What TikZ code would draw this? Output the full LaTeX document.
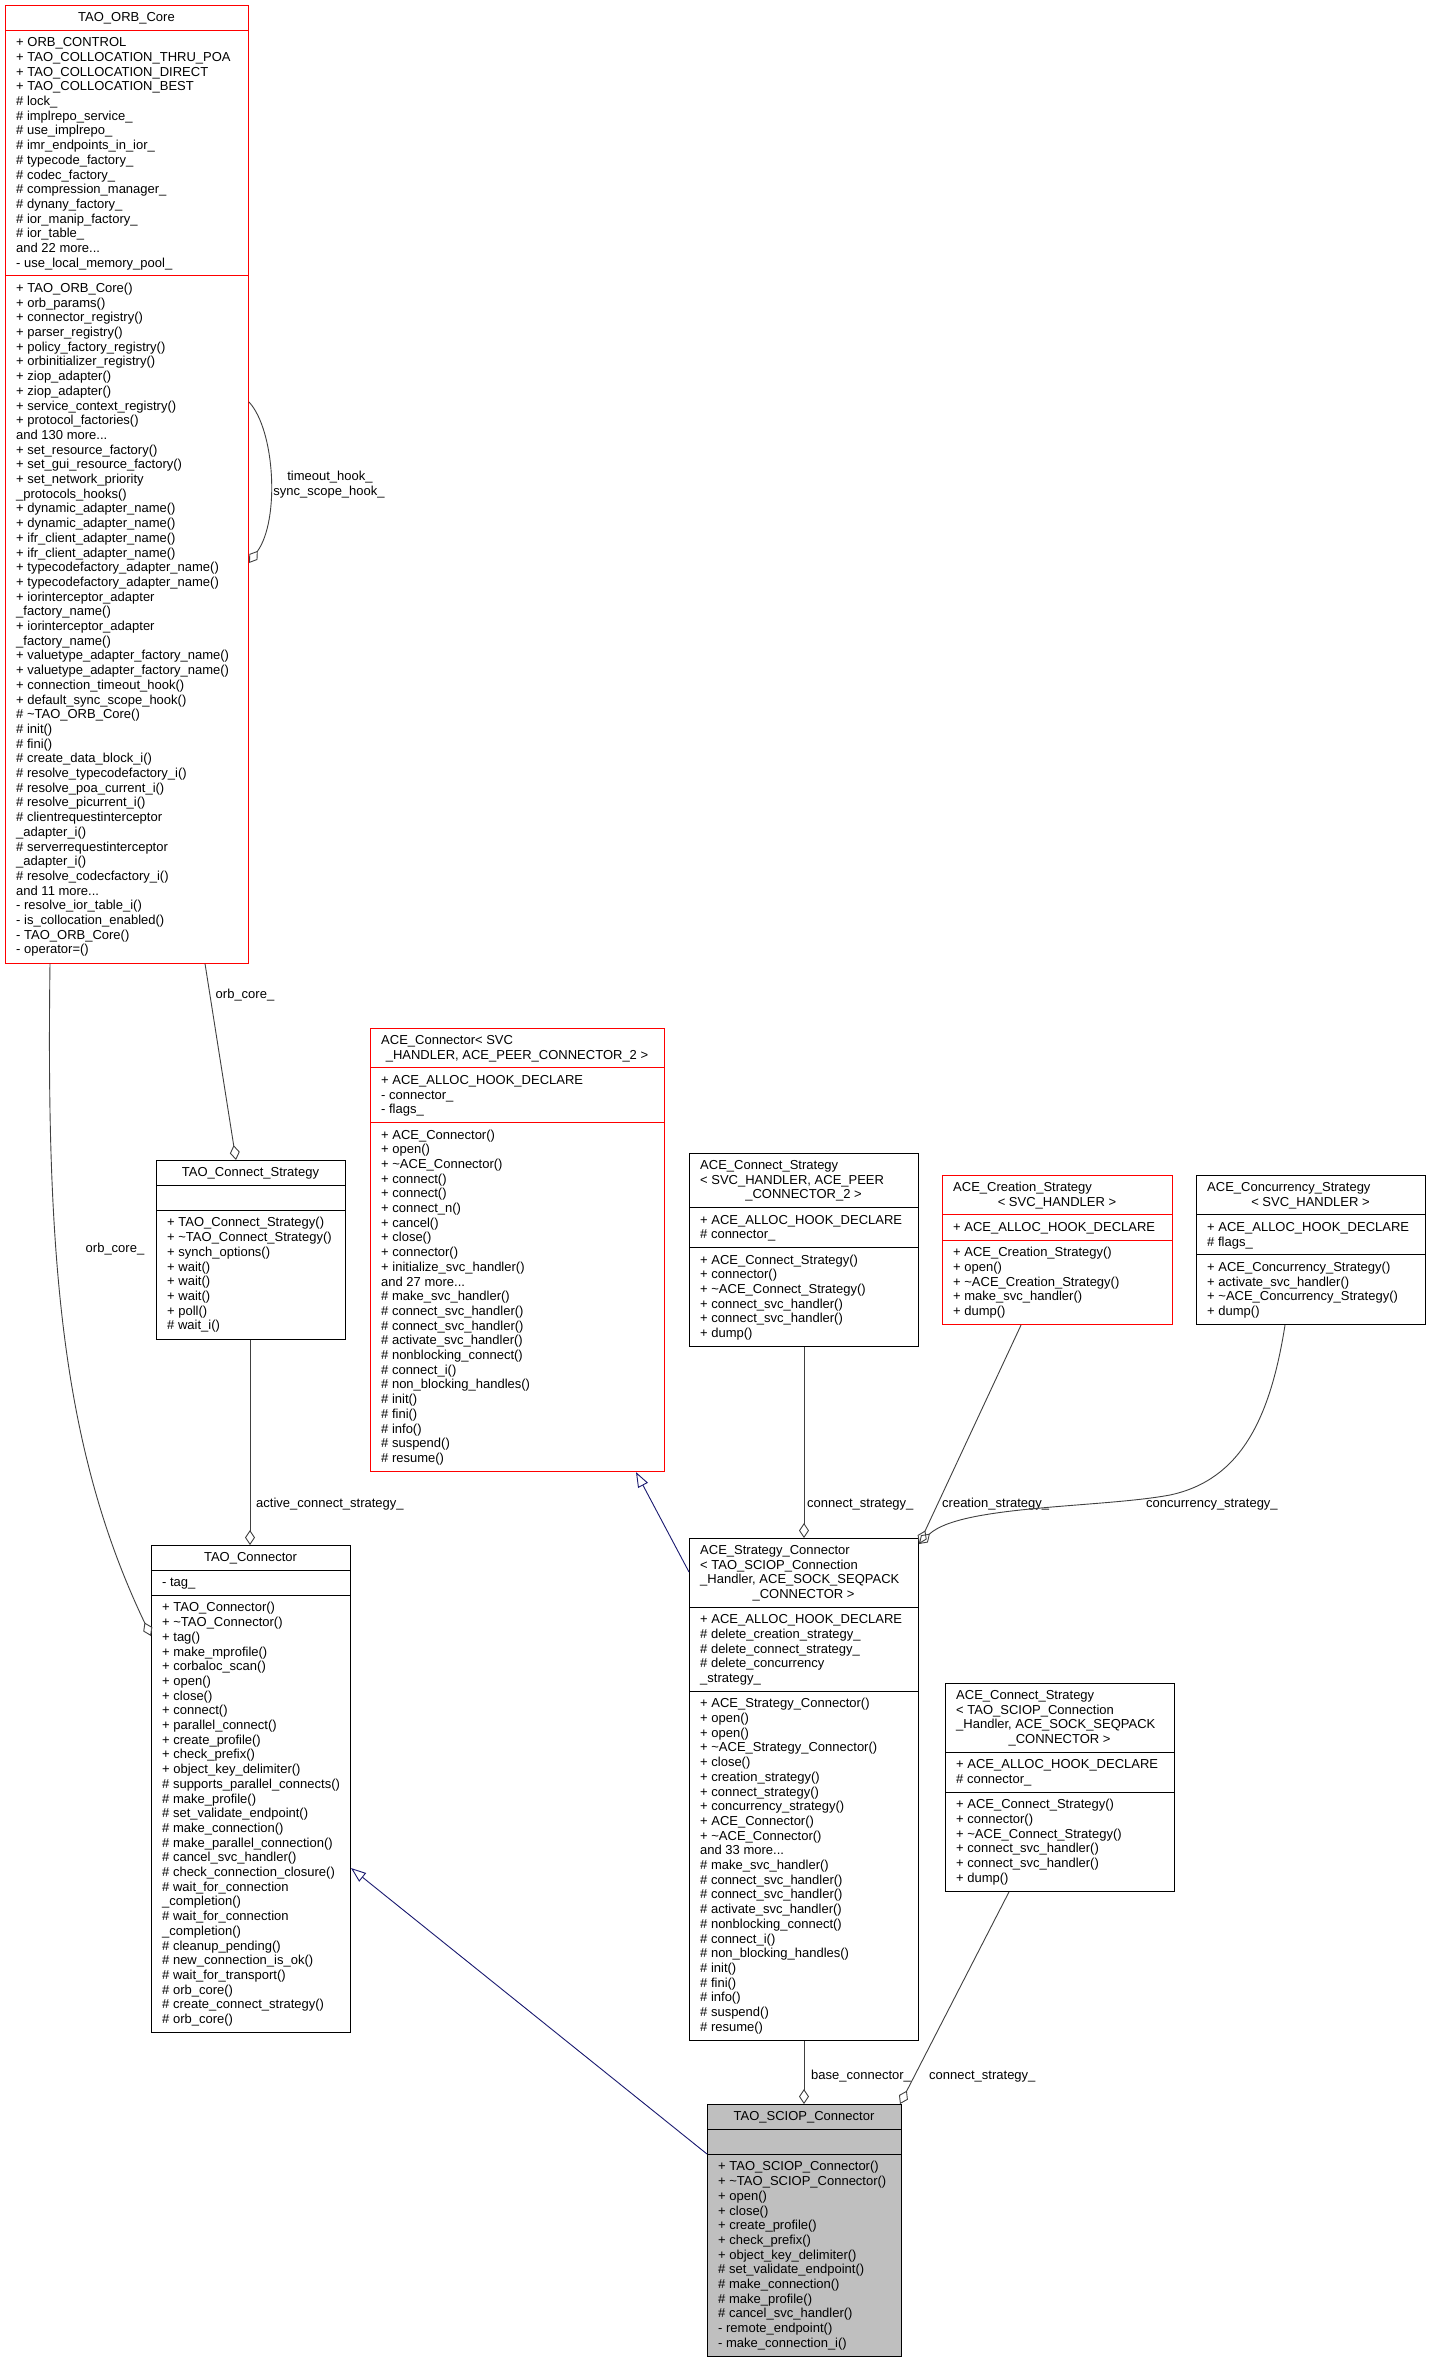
\documentclass[tikz,border=0pt]{standalone}
\usepackage{fontspec}
\setmainfont{Liberation Sans}
\usetikzlibrary{arrows.meta}
\definecolor{edgegray}{HTML}{404040}
\definecolor{navyblue}{HTML}{191970}
\definecolor{selgray}{HTML}{BFBFBF}
\newcommand{\mdots}{...}
\tikzset{
  txt/.style={font=\fontsize{13}{14.7}\selectfont, inner sep=0pt, text=black},
  boxshape/.style={line width=1pt, inner sep=0pt},
  usage/.style={draw=edgegray, line width=0.9pt, -{Diamond[open,length=15pt,width=10pt]}},
  inherit/.style={draw=navyblue, line width=0.9pt, -{Triangle[open,length=15pt,width=11pt]}},
}
% #1 name #2 x1 #3 x2 #4 top #5 nh #6 na #7 nm #8 border colour #9 fill
\newcommand{\umlclass}[9]{%
  \pgfmathsetmacro\hA{#5*14.7+10.5}%
  \pgfmathsetmacro\hB{#6*14.7+10.5}%
  \pgfmathsetmacro\hC{#7*14.7+10.5}%
  \pgfmathsetmacro\bw{#3-#2}%
  \pgfmathsetmacro\bh{\hA+\hB+\hC}%
  \pgfmathsetmacro\sA{#4+\hA}%
  \pgfmathsetmacro\sB{#4+\hA+\hB}%
  \node[boxshape, draw=#8, fill=#9, anchor=north west, minimum width=\bw pt, minimum height=\bh pt] (#1) at (#2,#4) {};
  \draw[line width=1pt, #8] (#2,\sA) -- (#3,\sA) (#2,\sB) -- (#3,\sB);
  \xdef\secA{#4}\xdef\secB{\sA}\xdef\secC{\sB}%
}
\newcommand{\lns}[3]{%
  \foreach \tline [count=\i from 0] in {#3} {\node[txt, anchor=base west] at (#1+11, #2+16.5+\i*14.7) {\tline};}}
\newcommand{\cln}[3]{\node[txt, anchor=base] at (#1, #2) {#3};}
\begin{document}
\begin{tikzpicture}[x=1pt, y=-1pt]
\useasboundingbox (0,0) rectangle (1431,2363);
\fill[white] (0,0) rectangle (1431,2363);

% TAO_ORB_Core
\umlclass{orb}{5}{248}{5}{1}{16}{46}{red}{white}
\cln{126.5}{\secA+16.5}{TAO\_ORB\_Core}
\lns{5}{\secB}{+ ORB\_CONTROL, + TAO\_COLLOCATION\_THRU\_POA, + TAO\_COLLOCATION\_DIRECT, + TAO\_COLLOCATION\_BEST, \# lock\_, \# implrepo\_service\_, \# use\_implrepo\_, \# imr\_endpoints\_in\_ior\_, \# typecode\_factory\_, \# codec\_factory\_, \# compression\_manager\_, \# dynany\_factory\_, \# ior\_manip\_factory\_, \# ior\_table\_, and 22 more\mdots, - use\_local\_memory\_pool\_}
\lns{5}{\secC}{+ TAO\_ORB\_Core(), + orb\_params(), + connector\_registry(), + parser\_registry(), + policy\_factory\_registry(), + orbinitializer\_registry(), + ziop\_adapter(), + ziop\_adapter(), + service\_context\_registry(), + protocol\_factories(), and 130 more\mdots, + set\_resource\_factory(), + set\_gui\_resource\_factory(), + set\_network\_priority, \_protocols\_hooks(), + dynamic\_adapter\_name(), + dynamic\_adapter\_name(), + ifr\_client\_adapter\_name(), + ifr\_client\_adapter\_name(), + typecodefactory\_adapter\_name(), + typecodefactory\_adapter\_name(), + iorinterceptor\_adapter, \_factory\_name(), + iorinterceptor\_adapter, \_factory\_name(), + valuetype\_adapter\_factory\_name(), + valuetype\_adapter\_factory\_name(), + connection\_timeout\_hook(), + default\_sync\_scope\_hook(), \# \textasciitilde TAO\_ORB\_Core(), \# init(), \# fini(), \# create\_data\_block\_i(), \# resolve\_typecodefactory\_i(), \# resolve\_poa\_current\_i(), \# resolve\_picurrent\_i(), \# clientrequestinterceptor, \_adapter\_i(), \# serverrequestinterceptor, \_adapter\_i(), \# resolve\_codecfactory\_i(), and 11 more\mdots, - resolve\_ior\_table\_i(), - is\_collocation\_enabled(), - TAO\_ORB\_Core(), - operator=()}

% ACE_Connector
\umlclass{acon}{370}{664}{1028}{2}{3}{23}{red}{white}
\lns{370}{\secA}{ACE\_Connector< SVC}
\cln{517}{\secA+16.5+14.7}{\_HANDLER, ACE\_PEER\_CONNECTOR\_2 >}
\lns{370}{\secB}{+ ACE\_ALLOC\_HOOK\_DECLARE, - connector\_, - flags\_}
\lns{370}{\secC}{+ ACE\_Connector(), + open(), + \textasciitilde ACE\_Connector(), + connect(), + connect(), + connect\_n(), + cancel(), + close(), + connector(), + initialize\_svc\_handler(), and 27 more\mdots, \# make\_svc\_handler(), \# connect\_svc\_handler(), \# connect\_svc\_handler(), \# activate\_svc\_handler(), \# nonblocking\_connect(), \# connect\_i(), \# non\_blocking\_handles(), \# init(), \# fini(), \# info(), \# suspend(), \# resume()}

% TAO_Connect_Strategy
\umlclass{tcs}{156}{345}{1160}{1}{1}{8}{black}{white}
\cln{250.5}{\secA+16.5}{TAO\_Connect\_Strategy}
\lns{156}{\secC}{+ TAO\_Connect\_Strategy(), + \textasciitilde TAO\_Connect\_Strategy(), + synch\_options(), + wait(), + wait(), + wait(), + poll(), \# wait\_i()}

% ACE_Connect_Strategy <SVC_HANDLER,...>
\umlclass{acsA}{689}{918}{1153}{3}{2}{6}{black}{white}
\lns{689}{\secA}{ACE\_Connect\_Strategy, {< SVC\_HANDLER, ACE\_PEER}}
\cln{803.5}{\secA+16.5+29.4}{\_CONNECTOR\_2 >}
\lns{689}{\secB}{+ ACE\_ALLOC\_HOOK\_DECLARE, \# connector\_}
\lns{689}{\secC}{+ ACE\_Connect\_Strategy(), + connector(), + \textasciitilde ACE\_Connect\_Strategy(), + connect\_svc\_handler(), + connect\_svc\_handler(), + dump()}

% ACE_Creation_Strategy
\umlclass{acr}{942}{1172}{1175}{2}{1}{5}{red}{white}
\lns{942}{\secA}{ACE\_Creation\_Strategy}
\cln{1057}{\secA+16.5+14.7}{< SVC\_HANDLER >}
\lns{942}{\secB}{+ ACE\_ALLOC\_HOOK\_DECLARE}
\lns{942}{\secC}{+ ACE\_Creation\_Strategy(), + open(), + \textasciitilde ACE\_Creation\_Strategy(), + make\_svc\_handler(), + dump()}

% ACE_Concurrency_Strategy
\umlclass{acc}{1196}{1425}{1175}{2}{2}{4}{black}{white}
\lns{1196}{\secA}{ACE\_Concurrency\_Strategy}
\cln{1310.5}{\secA+16.5+14.7}{< SVC\_HANDLER >}
\lns{1196}{\secB}{+ ACE\_ALLOC\_HOOK\_DECLARE, \# flags\_}
\lns{1196}{\secC}{+ ACE\_Concurrency\_Strategy(), + activate\_svc\_handler(), + \textasciitilde ACE\_Concurrency\_Strategy(), + dump()}

% TAO_Connector
\umlclass{tcon}{151}{350}{1545}{1}{1}{29}{black}{white}
\cln{250.5}{\secA+16.5}{TAO\_Connector}
\lns{151}{\secB}{- tag\_}
\lns{151}{\secC}{+ TAO\_Connector(), + \textasciitilde TAO\_Connector(), + tag(), + make\_mprofile(), + corbaloc\_scan(), + open(), + close(), + connect(), + parallel\_connect(), + create\_profile(), + check\_prefix(), + object\_key\_delimiter(), \# supports\_parallel\_connects(), \# make\_profile(), \# set\_validate\_endpoint(), \# make\_connection(), \# make\_parallel\_connection(), \# cancel\_svc\_handler(), \# check\_connection\_closure(), \# wait\_for\_connection, \_completion(), \# wait\_for\_connection, \_completion(), \# cleanup\_pending(), \# new\_connection\_is\_ok(), \# wait\_for\_transport(), \# orb\_core(), \# create\_connect\_strategy(), \# orb\_core()}

% ACE_Strategy_Connector
\umlclass{asc}{689}{918}{1538}{4}{5}{23}{black}{white}
\lns{689}{\secA}{ACE\_Strategy\_Connector, < TAO\_SCIOP\_Connection, {\_Handler, ACE\_SOCK\_SEQPACK}}
\cln{803.5}{\secA+16.5+44.1}{\_CONNECTOR >}
\lns{689}{\secB}{+ ACE\_ALLOC\_HOOK\_DECLARE, \# delete\_creation\_strategy\_, \# delete\_connect\_strategy\_, \# delete\_concurrency, \_strategy\_}
\lns{689}{\secC}{+ ACE\_Strategy\_Connector(), + open(), + open(), + \textasciitilde ACE\_Strategy\_Connector(), + close(), + creation\_strategy(), + connect\_strategy(), + concurrency\_strategy(), + ACE\_Connector(), + \textasciitilde ACE\_Connector(), and 33 more\mdots, \# make\_svc\_handler(), \# connect\_svc\_handler(), \# connect\_svc\_handler(), \# activate\_svc\_handler(), \# nonblocking\_connect(), \# connect\_i(), \# non\_blocking\_handles(), \# init(), \# fini(), \# info(), \# suspend(), \# resume()}

% ACE_Connect_Strategy <TAO_SCIOP_Connection_Handler,...>
\umlclass{acsB}{945}{1174}{1683}{4}{2}{6}{black}{white}
\lns{945}{\secA}{ACE\_Connect\_Strategy, < TAO\_SCIOP\_Connection, {\_Handler, ACE\_SOCK\_SEQPACK}}
\cln{1059.5}{\secA+16.5+44.1}{\_CONNECTOR >}
\lns{945}{\secB}{+ ACE\_ALLOC\_HOOK\_DECLARE, \# connector\_}
\lns{945}{\secC}{+ ACE\_Connect\_Strategy(), + connector(), + \textasciitilde ACE\_Connect\_Strategy(), + connect\_svc\_handler(), + connect\_svc\_handler(), + dump()}

% TAO_SCIOP_Connector
\umlclass{sciop}{707}{901}{2104}{1}{1}{13}{black}{selgray}
\cln{804}{\secA+16.5}{TAO\_SCIOP\_Connector}
\lns{707}{\secC}{+ TAO\_SCIOP\_Connector(), + \textasciitilde TAO\_SCIOP\_Connector(), + open(), + close(), + create\_profile(), + check\_prefix(), + object\_key\_delimiter(), \# set\_validate\_endpoint(), \# make\_connection(), \# make\_profile(), \# cancel\_svc\_handler(), - remote\_endpoint(), - make\_connection\_i()}

% ---- connectors ----
\draw[usage] ([yshift=-397pt]orb.north east) .. controls (275,430) and (280,520) .. ([yshift=-558pt]orb.north east);
\node[txt, anchor=base] (lblA) at (330,480) {timeout\_hook\_};
\node[txt, anchor=base] (lblB) at (329,495) {sync\_scope\_hook\_};

\draw[usage] ([xshift=200pt]orb.south west) -- ([xshift=80pt]tcs.north west);
\node[txt, anchor=base] (lblC) at (245,998) {orb\_core\_};

\draw[usage] ([xshift=45pt]orb.south west) .. controls (46,1260) and (62,1450) .. ([yshift=-91pt]tcon.north west);
\node[txt, anchor=base] (lblD) at (115,1252) {orb\_core\_};

\draw[usage] ([xshift=94pt]tcs.south west) -- ([xshift=99pt]tcon.north west);
\node[txt, anchor=base west] (lblE) at (256,1507) {active\_connect\_strategy\_};

\draw[inherit] ([yshift=-34pt]asc.north west) -- ([xshift=266pt]acon.south west);

\draw[usage] ([xshift=115pt]acsA.south west) -- ([xshift=115pt]asc.north west);
\node[txt, anchor=base west] (lblF) at (807,1507) {connect\_strategy\_};

\draw[usage] ([xshift=79pt]acr.south west) -- ([yshift=-6pt]asc.north east);
\node[txt, anchor=base west] (lblG) at (942,1507) {creation\_strategy\_};

\draw[usage] ([xshift=89pt]acc.south west) .. controls (1270,1420) and (1240,1480) .. (1170,1495) .. controls (1100,1508) and (960,1505) .. ([yshift=-6pt]asc.north east);
\node[txt, anchor=base west] (lblH) at (1146,1507) {concurrency\_strategy\_};

\draw[inherit] ([yshift=-50pt]sciop.north west) -- ([yshift=-323pt]tcon.north east);

\draw[usage] ([xshift=115pt]asc.south west) -- ([xshift=97pt]sciop.north west);
\node[txt, anchor=base west] (lblI) at (811,2079) {base\_connector\_};

\draw[usage] ([xshift=64pt]acsB.south west) -- ([xshift=-2pt]sciop.north east);
\node[txt, anchor=base west] (lblJ) at (929,2079) {connect\_strategy\_};
\end{tikzpicture}
\end{document}
